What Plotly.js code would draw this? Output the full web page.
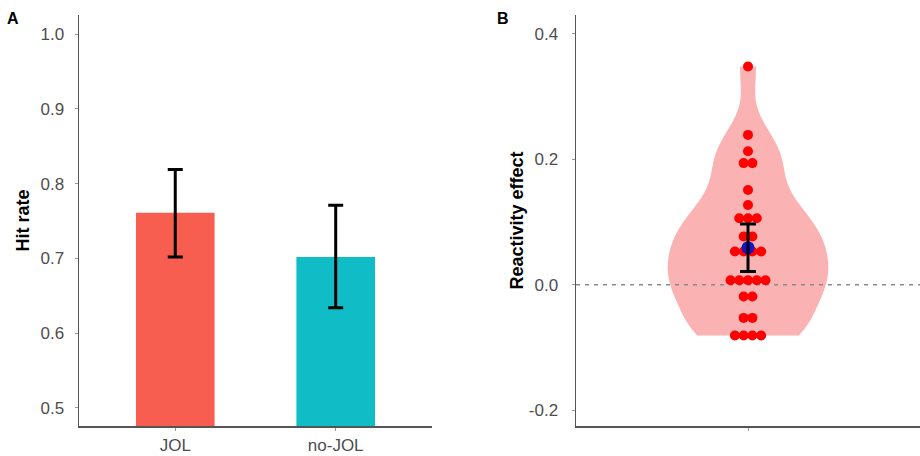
<!DOCTYPE html>
<html>
<head>
<meta charset="utf-8">
<script src="https://cdn.plot.ly/plotly-3.0.1.min.js"></script>
<style>html,body{margin:0;padding:0;background:#fff;}#chart{width:920px;height:456px;}</style>
</head>
<body>
<div id="chart"></div>
<script>
// ---- Panel A data ----
const conditions = ['JOL', 'no-JOL'];
const hitRate = [0.761, 0.702];
const hitRateUpper = [0.819, 0.771];
const hitRateLower = [0.702, 0.634];
const barColors = ['#F85E50', '#10BDC6'];
const hitTickVals = [0.5, 0.6, 0.7, 0.8, 0.9, 1.0];

// ---- Panel B data ----
const reactivityEffect = [
  0.348, 0.239, 0.213, 0.194, 0.194, 0.151, 0.127,
  0.106, 0.106, 0.106, 0.077, 0.077,
  0.053, 0.053, 0.053, 0.053,
  0.007, 0.007, 0.007, 0.007, 0.007,
  -0.019, -0.019, -0.053, -0.053,
  -0.081, -0.081, -0.081, -0.081
];
const effectMean = [0.059];
const effectUpper = [0.097];
const effectLower = [0.021];
const effectTickVals = [-0.2, 0.0, 0.2, 0.4];
const effectTickText = ['-0.2', '0.0', '0.2', '0.4'];

// stacked dot positions (centre-stacked like a dotplot)
const dotSpacing = 0.0305;
const groups = {};
reactivityEffect.forEach(v => { groups[v] = (groups[v] || 0) + 1; });
const dotX = [], dotY = [];
Object.keys(groups).forEach(k => {
  const n = groups[k];
  for (let i = 0; i < n; i++) {
    dotX.push(1 + (i - (n - 1) / 2) * dotSpacing);
    dotY.push(parseFloat(k));
  }
});

const font = 'Liberation Sans, Arial, sans-serif';
const yTickFont = {family: font, size: 17, color: '#4D4D4D'};
const xTickFont = {family: font, size: 17, color: '#4D4D4D'};
const titleFont = {family: font, size: 18, color: '#000000', weight: 'bold'};

const traces = [
  {
    type: 'bar', x: conditions, y: hitRate, xaxis: 'x', yaxis: 'y',
    marker: {color: barColors}, width: 0.49, showlegend: false, hoverinfo: 'skip',
    error_y: {type: 'data', symmetric: false,
      array: hitRateUpper.map((u, i) => u - hitRate[i]),
      arrayminus: hitRate.map((m, i) => m - hitRateLower[i]),
      color: '#000000', thickness: 3, width: 7.5}
  },
  {
    type: 'violin', x0: 1, y: reactivityEffect, xaxis: 'x2', yaxis: 'y2',
    points: false, width: 0.56, scalemode: 'width',
    spanmode: 'manual', span: [Math.min(...reactivityEffect), Math.max(...reactivityEffect)],
    bandwidth: 0.04,
    fillcolor: 'rgba(250,178,178,1)', line: {width: 0, color: 'rgba(250,178,178,1)'},
    box: {visible: false}, meanline: {visible: false}, showlegend: false, hoverinfo: 'skip'
  },
  {
    type: 'scatter', mode: 'lines', x: [0.4, 1.6], y: [0, 0], xaxis: 'x2', yaxis: 'y2',
    line: {color: '#8A8A8A', width: 1.5, dash: '4px,5px'}, showlegend: false, hoverinfo: 'skip'
  },
  {
    type: 'scatter', mode: 'markers', x: dotX, y: dotY, xaxis: 'x2', yaxis: 'y2',
    marker: {color: '#FF0000', size: 10}, showlegend: false, hoverinfo: 'skip'
  },
  {
    type: 'scatter', mode: 'markers', x: [1], y: effectMean, xaxis: 'x2', yaxis: 'y2',
    marker: {color: '#1414C8', size: 13}, showlegend: false, hoverinfo: 'skip'
  },
  {
    type: 'scatter', mode: 'markers', x: [1], y: effectMean, xaxis: 'x2', yaxis: 'y2',
    marker: {color: 'rgba(0,0,0,0)', size: 1},
    error_y: {type: 'data', symmetric: false,
      array: [effectUpper[0] - effectMean[0]],
      arrayminus: [effectMean[0] - effectLower[0]],
      color: '#000000', thickness: 3, width: 8},
    showlegend: false, hoverinfo: 'skip'
  }
];

const axisCommon = {
  showgrid: false, zeroline: false, showline: true, linecolor: '#555555', linewidth: 1.5,
  ticks: 'outside', ticklen: 3, tickcolor: '#999999', tickwidth: 1
};

const layout = {
  width: 920, height: 456,
  margin: {l: 79, r: 0, t: 15, b: 30},
  paper_bgcolor: '#ffffff', plot_bgcolor: '#ffffff',
  showlegend: false,
  xaxis: Object.assign({}, axisCommon, {domain: [0, 0.4197], range: [-0.6, 1.6], type: 'category',
    anchor: 'y', tickfont: xTickFont, ticklabelstandoff: 0}),
  yaxis: Object.assign({}, axisCommon, {domain: [0, 1], range: [0.4759, 1.0254], tickvals: hitTickVals,
    tickformat: '.1f', anchor: 'x', tickfont: yTickFont, ticklabelstandoff: 7,
    title: {text: 'Hit rate', font: titleFont, standoff: 6}}),
  xaxis2: Object.assign({}, axisCommon, {domain: [0.591, 1], range: [0.4, 1.6], tickvals: [1], ticktext: [''],
    anchor: 'y2', tickfont: xTickFont}),
  yaxis2: Object.assign({}, axisCommon, {domain: [0, 1], range: [-0.2255, 0.4303], tickvals: effectTickVals,
    ticktext: effectTickText, anchor: 'x2', tickfont: yTickFont, ticklabelstandoff: 10,
    title: {text: 'Reactivity effect', font: titleFont, standoff: 0}}),
  annotations: [
    {text: '<b>A</b>', xref: 'paper', yref: 'paper', x: (13 - 79) / 841, y: 1 - 4 / 411,
     xanchor: 'center', yanchor: 'middle', showarrow: false, font: {family: font, size: 16, color: '#000'}},
    {text: '<b>B</b>', xref: 'paper', yref: 'paper', x: (503 - 79) / 841, y: 1 - 4 / 411,
     xanchor: 'center', yanchor: 'middle', showarrow: false, font: {family: font, size: 16, color: '#000'}}
  ]
};

Plotly.newPlot('chart', traces, layout, {staticPlot: true, displayModeBar: false});
</script>
</body>
</html>
